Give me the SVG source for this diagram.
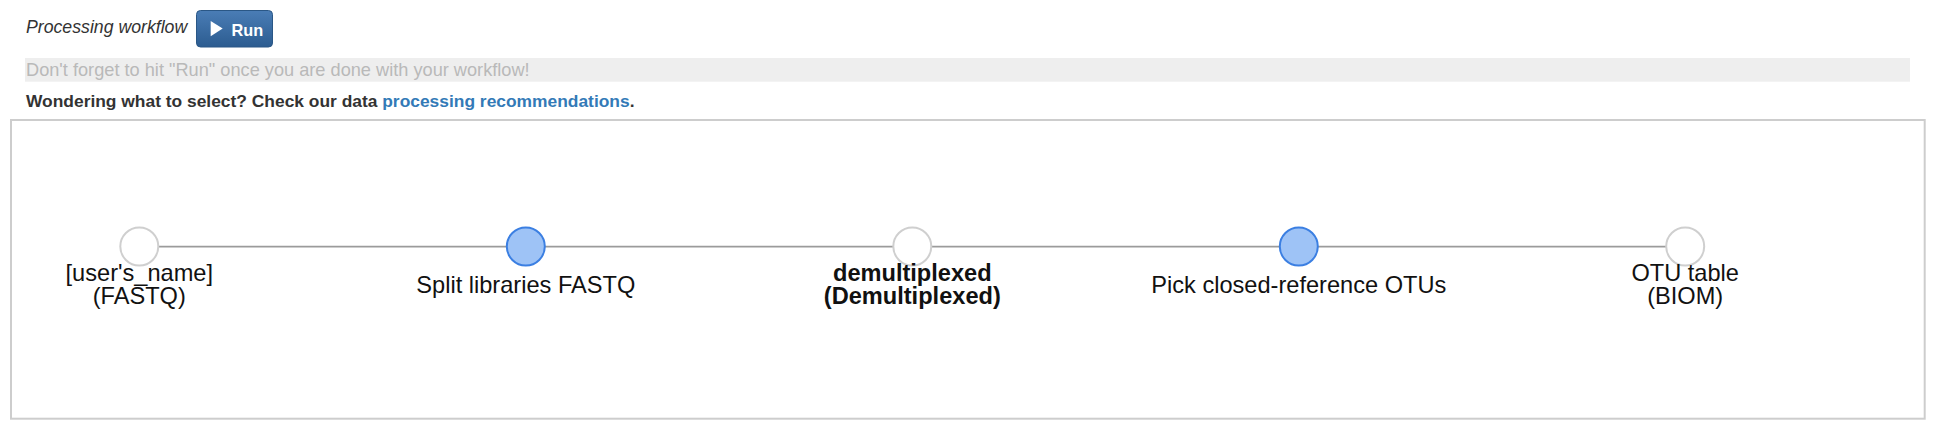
<svg xmlns="http://www.w3.org/2000/svg" width="1938" height="426" viewBox="0 0 1938 426">
  <defs>
    <linearGradient id="btnGrad" x1="0" y1="0" x2="0" y2="1">
      <stop offset="0" stop-color="#4a7db6"/>
      <stop offset="1" stop-color="#2c5c90"/>
    </linearGradient>
    <style>
      .ui { font-family: "Liberation Sans", Arial, Helvetica, sans-serif; }
      .lbl { font-family: "Liberation Sans", Arial, Helvetica, sans-serif; font-size: 23.6px; fill: #111; text-anchor: middle; }
      .bold { font-weight: bold; }
      .edge { stroke: #9b9b9b; stroke-width: 1.8; fill: none; }
      .n-data { fill: #ffffff; stroke: #cfcfcf; stroke-width: 2; }
      .n-proc { fill: #9ec3f6; stroke: #3b7fe2; stroke-width: 2; }
    </style>
  </defs>

  <rect width="1938" height="426" fill="#ffffff"/>

  <!-- header -->
  <g id="header">
    <text class="ui" x="26" y="33.3" font-size="17.7" font-style="italic" fill="#333">Processing workflow</text>
    <g id="run-button">
      <rect x="196.5" y="10.5" width="76" height="36.5" rx="4" ry="4" fill="url(#btnGrad)" stroke="#2a5786" stroke-width="1"/>
      <polygon points="210.7,21 222.7,28.6 210.7,36.2" fill="#ffffff"/>
      <text class="ui bold" x="231.5" y="35.7" font-size="16.3" fill="#ffffff">Run</text>
    </g>
    <rect x="25" y="58" width="1885" height="23.7" fill="#eeeeee"/>
    <text class="ui" x="26" y="76" font-size="18.2" fill="#b9b9b9">Don't forget to hit "Run" once you are done with your workflow!</text>
    <text class="ui bold" x="26" y="106.7" font-size="17.4" fill="#333"><tspan>Wondering what to select? Check our data </tspan><tspan fill="#337ab7">processing recommendations</tspan><tspan>.</tspan></text>
  </g>

  <!-- workflow frame -->
  <rect id="frame" x="11" y="120" width="1913.7" height="298.7" fill="#ffffff" stroke="#cdcdcd" stroke-width="2"/>

  <!-- connectors -->
  <g id="connectors">
    <line class="edge" x1="139.3" y1="246.6" x2="525.8" y2="246.6"/>
    <line class="edge" x1="525.8" y1="246.6" x2="912.3" y2="246.6"/>
    <line class="edge" x1="912.3" y1="246.6" x2="1298.8" y2="246.6"/>
    <line class="edge" x1="1298.8" y1="246.6" x2="1685.2" y2="246.6"/>
  </g>

  <!-- nodes -->
  <g id="node-input">
    <circle class="n-data" cx="139.3" cy="246.5" r="19"/>
    <text class="lbl" x="139.3" y="280.5">[user's_name]</text>
    <text class="lbl" x="139.3" y="303.8">(FASTQ)</text>
  </g>
  <g id="node-split">
    <circle class="n-proc" cx="525.8" cy="246.5" r="19"/>
    <text class="lbl" x="525.8" y="292.6">Split libraries FASTQ</text>
  </g>
  <g id="node-demux">
    <circle class="n-data" cx="912.3" cy="246.5" r="19"/>
    <text class="lbl bold" x="912.3" y="280.5">demultiplexed</text>
    <text class="lbl bold" x="912.3" y="303.8">(Demultiplexed)</text>
  </g>
  <g id="node-pick">
    <circle class="n-proc" cx="1298.8" cy="246.5" r="19"/>
    <text class="lbl" x="1298.8" y="292.6">Pick closed-reference OTUs</text>
  </g>
  <g id="node-otu">
    <circle class="n-data" cx="1685.2" cy="246.5" r="19"/>
    <text class="lbl" x="1685.2" y="280.5">OTU table</text>
    <text class="lbl" x="1685.2" y="303.8">(BIOM)</text>
  </g>
</svg>
